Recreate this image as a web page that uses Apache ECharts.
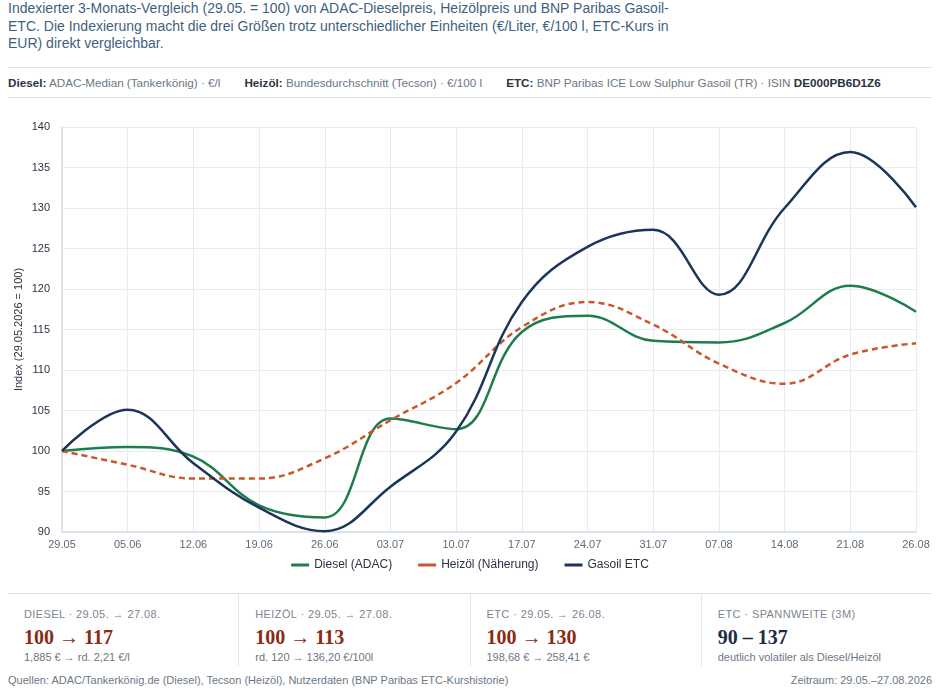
<!DOCTYPE html>
<html>
<head>
<meta charset="utf-8">
<script src="https://cdn.jsdelivr.net/npm/echarts@6/dist/echarts.min.js"></script>
<style>
  html, body { margin: 0; padding: 0; background: #fff; }
  body { width: 940px; height: 690px; position: relative; overflow: hidden; font-family: "Liberation Sans", Arial, sans-serif; }
  #title { position: absolute; left: 8px; top: 0px; font-size: 14px; line-height: 17.5px; color: #3f5f80; white-space: nowrap; }
  #meta { position: absolute; left: 8px; right: 8px; top: 67px; height: 29px; border-top: 1px solid #dde2e8; border-bottom: 1px solid #dde2e8; display: flex; align-items: center; gap: 24px; font-size: 11.7px; color: #6b7785; white-space: nowrap; }
  #meta b { color: #2a3440; }
  #chart { position: absolute; left: 0; top: 100px; width: 940px; height: 490px; }
  #cards { position: absolute; left: 8px; right: 8px; top: 593px; height: 72px; border-top: 1px solid #dde2e8; display: flex; }
  .card { flex: 1; padding: 13px 16px 0 16px; border-left: 1px solid #e3e7ec; }
  .card:first-child { border-left: none; }
  .lab { font-size: 11px; color: #7b8591; letter-spacing: 0.4px; line-height: 14px; }
  .big { font-family: "Liberation Serif", "DejaVu Serif", serif; font-weight: bold; font-size: 20px; color: #8a2b14; line-height: 24px; margin-top: 4px; }
  .big.navy { color: #1b2c44; }
  .small { font-size: 11px; color: #6b7785; line-height: 14px; margin-top: 1px; }
  #foot { position: absolute; left: 8px; right: 8px; top: 674px; font-size: 11px; color: #6b7785; display: flex; justify-content: space-between; }
</style>
</head>
<body>
<div id="title">Indexierter 3-Monats-Vergleich (29.05. = 100) von ADAC-Dieselpreis, Heizölpreis und BNP Paribas Gasoil-<br>ETC. Die Indexierung macht die drei Größen trotz unterschiedlicher Einheiten (€/Liter, €/100 l, ETC-Kurs in<br>EUR) direkt vergleichbar.</div>
<div id="meta">
  <span><b>Diesel:</b> ADAC-Median (Tankerkönig) · €/l</span>
  <span><b>Heizöl:</b> Bundesdurchschnitt (Tecson) · €/100 l</span>
  <span><b>ETC:</b> BNP Paribas ICE Low Sulphur Gasoil (TR) · ISIN <b>DE000PB6D1Z6</b></span>
</div>
<div id="chart"></div>
<div id="cards">
  <div class="card"><div class="lab">DIESEL · 29.05. → 27.08.</div><div class="big">100 → 117</div><div class="small">1,885 € → rd. 2,21 €/l</div></div>
  <div class="card"><div class="lab">HEIZÖL · 29.05. → 27.08.</div><div class="big">100 → 113</div><div class="small">rd. 120 → 136,20 €/100l</div></div>
  <div class="card"><div class="lab">ETC · 29.05. → 26.08.</div><div class="big">100 → 130</div><div class="small">198,68 € → 258,41 €</div></div>
  <div class="card"><div class="lab">ETC · SPANNWEITE (3M)</div><div class="big navy">90 – 137</div><div class="small">deutlich volatiler als Diesel/Heizöl</div></div>
</div>
<div id="foot"><span>Quellen: ADAC/Tankerkönig.de (Diesel), Tecson (Heizöl), Nutzerdaten (BNP Paribas ETC-Kurshistorie)</span><span>Zeitraum: 29.05.–27.08.2026</span></div>
<script>
const categories = ["29.05","05.06","12.06","19.06","26.06","03.07","10.07","17.07","24.07","31.07","07.08","14.08","21.08","26.08"];
const diesel  = [100, 100.5, 99.3, 93.3, 91.8, 104.0, 102.7, 114.7, 116.7, 113.6, 113.4, 115.8, 120.4, 117.2];
const heizoel = [100, 98.3, 96.6, 96.6, 99.1, 103.8, 108.4, 115.3, 118.4, 115.6, 110.8, 108.3, 111.9, 113.3];
const gasoil  = [100, 105.1, 98.5, 93.0, 90.1, 95.6, 102.4, 118.4, 125.2, 127.3, 119.3, 130.0, 136.9, 130.1];
const yTicks = { min: 90, max: 140, interval: 5 };

const chart = echarts.init(document.getElementById('chart'));
const fontFamily = '"Liberation Sans", Arial, sans-serif';
chart.setOption({
  animation: false,
  textStyle: { fontFamily },
  grid: { left: 62, right: 24, top: 27, bottom: 58 },
  legend: {
    bottom: 14, left: 'center', icon: 'rect', itemWidth: 18, itemHeight: 3, itemGap: 26,
    textStyle: { color: '#2a3440', fontSize: 12, fontFamily },
    data: ['Diesel (ADAC)', 'Heizöl (Näherung)', 'Gasoil ETC']
  },
  xAxis: {
    type: 'category', data: categories, boundaryGap: false,
    axisLine: { lineStyle: { color: '#d5dbe2', width: 1.5 } },
    axisTick: { show: false },
    axisLabel: { color: '#5b6b7c', fontSize: 11, margin: 7 },
    splitLine: { show: true, lineStyle: { color: '#e8ecf1' } }
  },
  yAxis: {
    type: 'value', min: yTicks.min, max: yTicks.max, interval: yTicks.interval,
    name: 'Index (29.05.2026 = 100)', nameLocation: 'middle', nameGap: 38, nameMoveOverlap: false,
    nameTextStyle: { color: '#2a3440', fontSize: 11 },
    axisLine: { show: true, lineStyle: { color: '#d5dbe2', width: 1.5 } },
    axisTick: { show: false },
    axisLabel: { color: '#2a3440', fontSize: 11, margin: 12 },
    splitLine: { lineStyle: { color: '#e8ecf1' } }
  },
  series: [
    { name: 'Diesel (ADAC)', type: 'line', data: diesel, smooth: 0.4, showSymbol: false,
      itemStyle: { color: '#1e7d4c' }, lineStyle: { color: '#1e7d4c', width: 2.5 } },
    { name: 'Heizöl (Näherung)', type: 'line', data: heizoel, smooth: 0.4, showSymbol: false,
      itemStyle: { color: '#c9572a' }, lineStyle: { color: '#c9572a', width: 2.5, type: [6, 4] } },
    { name: 'Gasoil ETC', type: 'line', data: gasoil, smooth: 0.4, showSymbol: false,
      itemStyle: { color: '#1c355a' }, lineStyle: { color: '#1c355a', width: 2.5 } }
  ]
});
</script>
</body>
</html>
